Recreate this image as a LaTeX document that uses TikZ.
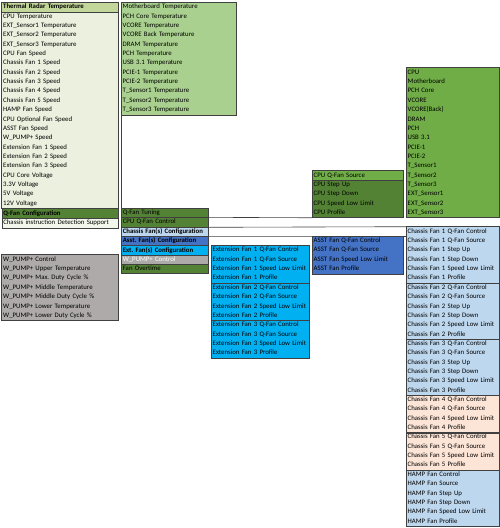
\documentclass[tikz,border=0pt]{standalone}
\usepackage{fontspec}
\setmainfont{Carlito}
\frenchspacing
\definecolor{paleGreen}{HTML}{EBF1DE}
\definecolor{headGreen}{HTML}{C4D79B}
\definecolor{boardGreen}{HTML}{A9D08E}
\definecolor{darkGreen}{HTML}{548235}
\definecolor{srcGreen}{HTML}{70AD47}
\definecolor{chassisBlue}{HTML}{BDD7EE}
\definecolor{asstBlue}{HTML}{4472C4}
\definecolor{extCyan}{HTML}{00B0F0}
\definecolor{pumpGrey}{HTML}{AEAAAA}
\definecolor{fanPeach}{HTML}{FCE4D6}
\definecolor{boxGrey}{HTML}{404040}
\tikzset{
  list cell/.style={anchor=north west,inner xsep=1.5pt,inner ysep=0pt,minimum height=9.35pt,
    text height=4.9pt,text depth=1.6pt,align=left,font=\fontsize{6.8}{8}\selectfont},
  col a/.style={list cell,text width=113.5pt},
  col b/.style={list cell,text width=112pt},
  cfg cell/.style={list cell,text width=84pt,draw=boxGrey,line width=0.6pt},
  col c/.style={list cell,text width=95pt},
  col d/.style={list cell,text width=88pt},
  col e/.style={list cell,text width=90pt},
  box line/.style={draw=boxGrey,line width=0.6pt},
}
\newcommand{\cellList}[5]{
\foreach \txt [count=\k from #3] in {#5} {
  \node[#4] (#1\k) at (#2,{-2.3-9.35*\k}) {\mbox{\txt}};
}
}

\begin{document}
\begin{tikzpicture}[x=1pt,y=1pt]
\useasboundingbox (0,0) rectangle (500,-528);
% thermal radar
\node[col a,fill=headGreen] (thr0) at (1.5,-2.3) {\textbf{Thermal Radar Temperature}};
\cellList{thr}{1.5}{1}{col a,fill=paleGreen}{CPU Temperature,EXT\_Sensor1 Temperature,EXT\_Sensor2 Temperature,EXT\_Sensor3 Temperature,CPU Fan Speed,Chassis Fan 1 Speed,Chassis Fan 2 Speed,Chassis Fan 3 Speed,Chassis Fan 4 Speed,Chassis Fan 5 Speed,HAMP Fan Speed,CPU Optional Fan Speed,ASST Fan Speed,W\_PUMP+ Speed,Extension Fan 1 Speed,Extension Fan 2 Speed,Extension Fan 3 Speed,CPU Core Voltage,3.3V Voltage,5V Voltage,12V Voltage}
\draw[box line] (thr0.north west) rectangle (thr21.south east);
\draw[box line] (thr0.south west) -- (thr0.south east);
\node[col a,fill=darkGreen,draw=boxGrey,line width=0.6pt] (qfancfg) at (thr21.south west) {\textbf{Q-Fan Configuration}};
\node[col a,fill=paleGreen!60,draw=boxGrey,line width=0.6pt] (chassisdet) at (qfancfg.south west) {\mbox{Chassis instruction Detection Support}};
\cellList{mb}{121}{0}{col b,fill=boardGreen}{Motherboard Temperature,PCH Core Temperature,VCORE Temperature,VCORE Back Temperature,DRAM Temperature,PCH Temperature,USB 3.1 Temperature,PCIE-1 Temperature,PCIE-2 Temperature,T\_Sensor1 Temperature,T\_Sensor2 Temperature,T\_Sensor3 Temperature}
\draw[box line] (mb0.north west) rectangle (mb11.south east);
% q-fan configuration
\foreach \txt/\clr/\ink [count=\k from 22] in {Q-Fan Tuning/darkGreen/black,CPU Q-Fan Control/darkGreen/black,\textbf{Chassis Fan(s) Configuration}/chassisBlue/black,\textbf{Asst. Fan(s) Configuration}/asstBlue/black,\textbf{Ext. Fan(s) Configuration}/extCyan/black,W\_PUMP+ Control/pumpGrey/white,Fan Overtime/darkGreen/black} {
  \node[cfg cell,fill=\clr,text=\ink] (cfg\k) at (121,{-2.3-9.35*\k}) {\mbox{\txt}};
}
\draw[box line] (mb11.south west) -- (cfg22.north west);
% cpu q-fan
\node[col d,fill=srcGreen] (cpuq18) at (312,{-2.3-9.35*18}) {CPU Q-Fan Source};
\cellList{cpuq}{312}{19}{col d,fill=darkGreen}{CPU Step Up,CPU Step Down,CPU Speed Low Limit,CPU Profile}
\draw[box line] (cpuq18.north west) rectangle (cpuq22.south east);
\draw[box line] (cpuq18.south west) -- (cpuq18.south east);
\cellList{src}{406}{7}{col e,fill=srcGreen}{CPU,Motherboard,PCH Core,VCORE,VCORE(Back),DRAM,PCH,USB 3.1,PCIE-1,PCIE-2,T\_Sensor1,T\_Sensor2,T\_Sensor3,EXT\_Sensor1,EXT\_Sensor2,EXT\_Sensor3}
\draw[box line] (src7.north west) rectangle (src22.south east);
% asst and extension fans
\cellList{asst}{312}{25}{col d,fill=asstBlue}{ASST Fan Q-Fan Control,ASST Fan Q-Fan Source,ASST Fan Speed Low Limit,ASST Fan Profile}
\draw[box line] (asst25.north west) rectangle (asst28.south east);
\cellList{ext}{211}{26}{col c,fill=extCyan}{Extension Fan 1 Q-Fan Control,Extension Fan 1 Q-Fan Source,Extension Fan 1 Speed Low Limit,Extension Fan 1 Profile}
\cellList{ext}{211}{30}{col c,fill=extCyan}{Extension Fan 2 Q-Fan Control,Extension Fan 2 Q-Fan Source,Extension Fan 2 Speed Low Limit,Extension Fan 2 Profile}
\cellList{ext}{211}{34}{col c,fill=extCyan}{Extension Fan 3 Q-Fan Control,Extension Fan 3 Q-Fan Source,Extension Fan 3 Speed Low Limit,Extension Fan 3 Profile}
\foreach \a/\b in {26/29,30/33,34/37}
  \draw[box line] (ext\a.north west) rectangle (ext\b.south east);
% chassis fans
\cellList{chs}{406}{24}{col e,fill=chassisBlue}{Chassis Fan 1 Q-Fan Control,Chassis Fan 1 Q-Fan Source,Chassis Fan 1 Step Up,Chassis Fan 1 Step Down,Chassis Fan 1 Speed Low Limit,Chassis Fan 1 Profile}
\cellList{chs}{406}{30}{col e,fill=chassisBlue}{Chassis Fan 2 Q-Fan Control,Chassis Fan 2 Q-Fan Source,Chassis Fan 2 Step Up,Chassis Fan 2 Step Down,Chassis Fan 2 Speed Low Limit,Chassis Fan 2 Profile}
\cellList{chs}{406}{36}{col e,fill=chassisBlue}{Chassis Fan 3 Q-Fan Control,Chassis Fan 3 Q-Fan Source,Chassis Fan 3 Step Up,Chassis Fan 3 Step Down,Chassis Fan 3 Speed Low Limit,Chassis Fan 3 Profile}
\cellList{chs}{406}{42}{col e,fill=fanPeach}{Chassis Fan 4 Q-Fan Control,Chassis Fan 4 Q-Fan Source,Chassis Fan 4 Speed Low Limit,Chassis Fan 4 Profile}
\cellList{chs}{406}{46}{col e,fill=fanPeach}{Chassis Fan 5 Q-Fan Control,Chassis Fan 5 Q-Fan Source,Chassis Fan 5 Speed Low Limit,Chassis Fan 5 Profile}
\cellList{chs}{406}{50}{col e,fill=chassisBlue}{HAMP Fan Control,HAMP Fan Source,HAMP Fan Step Up,HAMP Fan Step Down,HAMP Fan Speed Low Limit,HAMP Fan Profile}
\foreach \a/\b in {24/29,30/35,36/41,42/45,46/49,50/55}
  \draw[box line] (chs\a.north west) rectangle (chs\b.south east);
% w_pump+
\cellList{pump}{1.5}{27}{col a,fill=pumpGrey}{W\_PUMP+ Control,W\_PUMP+ Upper Temperature,W\_PUMP+ Max. Duty Cycle \%,W\_PUMP+ Middle Temperature,W\_PUMP+ Middle Duty Cycle \%,W\_PUMP+ Lower Temperature,W\_PUMP+ Lower Duty Cycle \%}
\draw[box line] (pump27.north west) rectangle (pump33.south east);
% connectors
\draw[box line] (cfg23.north east) -- (cpuq22.south west);
\draw[box line] (cfg23.south east) -- (chs24.north west);
\draw[box line] (cfg24.south east) -- (chs24.south west);
\end{tikzpicture}
\end{document}
